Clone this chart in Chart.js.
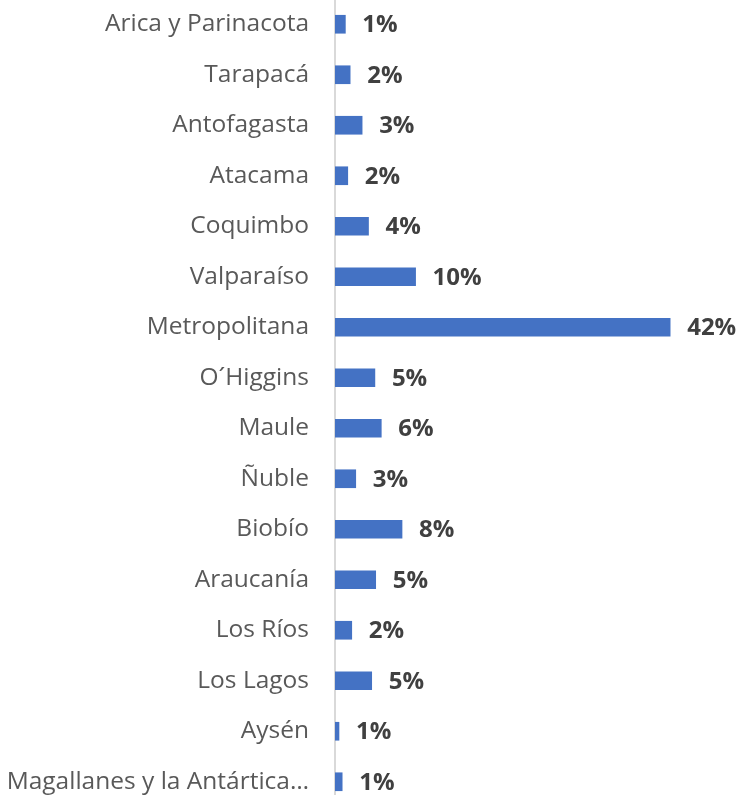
<!DOCTYPE html>
<html>
<head>
<meta charset="utf-8">
<script src="https://cdn.jsdelivr.net/npm/chart.js@4"></script>
<style>
  html, body { margin: 0; padding: 0; background: #fff; overflow: hidden; }
  #wrap { position: absolute; left: 0; top: -1px; width: 738px; height: 808px; }
</style>
</head>
<body>
<div id="wrap"><canvas id="chart"></canvas></div>
<script>
// Regions and their share (%)
const regions = [
  "Arica y Parinacota",
  "Tarapacá",
  "Antofagasta",
  "Atacama",
  "Coquimbo",
  "Valparaíso",
  "Metropolitana",
  "O´Higgins",
  "Maule",
  "Ñuble",
  "Biobío",
  "Araucanía",
  "Los Ríos",
  "Los Lagos",
  "Aysén",
  "Magallanes y la Antártica…",
];
const shares = [1.3, 1.9, 3.4, 1.6, 4.2, 10.1, 42, 5.0, 5.8, 2.6, 8.4, 5.1, 2.1, 4.6, 0.5, 0.9];

// Draws the bold "x%" labels to the right of each bar
const valueLabels = {
  id: "valueLabels",
  afterDatasetsDraw(chart) {
    const ctx = chart.ctx;
    const meta = chart.getDatasetMeta(0);
    ctx.save();
    ctx.font = "bold 24px 'Open Sans'";
    ctx.fillStyle = "#404040";
    ctx.textAlign = "left";
    ctx.textBaseline = "middle";
    meta.data.forEach((bar, i) => {
      ctx.fillText(Math.round(shares[i]) + "%", bar.x + 17, bar.y + 1);
    });
    ctx.restore();
  },
};

const ctx = document.getElementById("chart").getContext("2d");
new Chart(ctx, {
  type: "bar",
  data: {
    labels: regions,
    datasets: [
      {
        data: shares,
        backgroundColor: "#4472C4",
        barThickness: 18,
      },
    ],
  },
  options: {
    indexAxis: "y",
    responsive: true,
    maintainAspectRatio: false,
    animation: false,
    layout: {
      padding: { top: 0, bottom: 0, left: 0, right: 4 },
    },
    plugins: {
      legend: { display: false },
      tooltip: { enabled: false },
    },
    scales: {
      x: {
        display: false,
        min: 0,
        max: 50,
      },
      y: {
        afterFit: (scale) => {
          // fixed label column, and no extra room above/below the bars
          scale.width = 335;
          scale.paddingTop = 0;
          scale.paddingBottom = 0;
        },
        grid: { display: false, drawTicks: false },
        border: { display: true, color: "#d9d9d9", width: 2 },
        ticks: {
          padding: 26,
          color: "#595959",
          font: { family: "'Open Sans'", size: 24.5 },
          autoSkip: false,
        },
      },
    },
  },
  plugins: [valueLabels],
});
</script>
</body>
</html>
